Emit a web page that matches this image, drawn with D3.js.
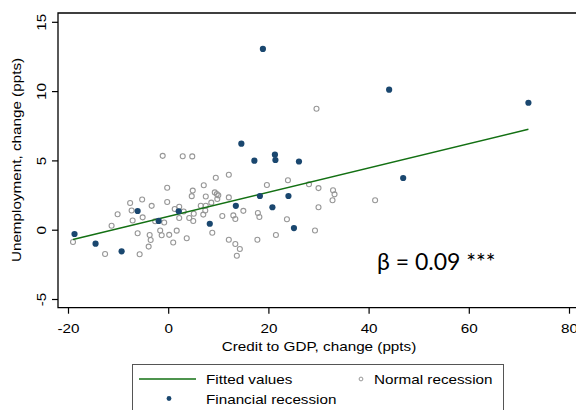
<!DOCTYPE html>
<html>
<head>
<meta charset="utf-8">
<script src="https://cdn.jsdelivr.net/npm/d3@7"></script>
<style>
  html, body { margin: 0; padding: 0; background: #fff; }
  svg { display: block; font-family: "Liberation Sans", Arial, sans-serif; }
</style>
</head>
<body>
<svg id="chart" width="576" height="410"></svg>
<script>
// Financial recessions: change in credit-to-GDP (x) and unemployment (y), ppts
const financialX = [-18.7, -14.5, -9.3, -6.1, -1.9, 2.1, 8.3, 13.5, 14.6, 17.2, 18.3, 18.9, 20.8,
                    21.3, 21.4, 24.0, 25.1, 26.1, 44.1, 46.9, 71.9];
const financialY = [-0.31, -1.01, -1.56, 1.35, 0.63, 1.33, 0.43, 1.72, 6.21, 4.98, 2.43, 13.04, 1.62,
                    5.41, 5.03, 2.43, 0.12, 4.92, 10.10, 3.73, 9.16];

// Normal recessions
const normalX = [-19.0, -12.6, -11.3, -10.1, -7.6, -7.3, -7.1, -6.1, -5.7, -5.2, -5.1, -3.7, -3.5,
                 -3.9, -3.3, -2.6, -1.6, -1.3, -1.1, -0.8, -0.2, -0.2, 0.2, 1.3, 2.2, 3.1, 2.9,
                 4.8, 1.0, 1.7, 2.2, 3.7, 4.2, 5.0, 5.1, 4.9, 4.7, 7.1, 6.5, 7.5, 7.5, 7.4,
                 7.0, 8.6, 8.8, 9.3, 9.7, 10.0, 9.8, 9.5, 12.1, 12.1, 10.8, 13.0, 13.4, 15.0,
                 12.1, 13.4, 14.3, 13.7, 17.8, 17.9, 18.2, 19.7, 21.5, 23.7, 23.9, 28.1, 29.6,
                 30.0, 30.0, 29.3, 32.9, 33.2, 32.8, 41.3];
const normalY = [-0.89, -1.75, 0.29, 1.12, 1.93, 1.39, 0.66, -0.26, -1.77, 2.18, 0.89, -0.38, -0.74,
                 -1.22, 1.72, 0.61, -0.06, -0.40, 5.33, 0.52, 3.03, 2.00, -0.37, 1.49, 1.66, 1.31, 5.30,
                 5.29, -0.92, -0.07, 0.84, -0.62, 0.84, 0.63, 1.15, 2.82, 2.42, 3.21, 1.73, 2.40, 1.73, 1.39,
                 1.09, 1.95, -0.22, 2.69, 2.57, 2.48, 2.21, 3.75, 3.97, 2.33, 0.99, 1.03, 0.77, 1.36,
                 -0.72, -1.03, -1.39, -1.88, -0.72, 1.21, 0.92, 3.22, -0.38, 0.75, 3.57, 3.28, 8.73,
                 3.00, 1.62, -0.06, 2.85, 2.55, 2.13, 2.12];

// Linear fit over the sample range
const fitX = [-19.0, 71.9];
const fitY = [-0.71, 7.25];

const xTicks = [-20, 0, 20, 40, 60, 80];
const yTicks = [-5, 0, 5, 10, 15];

const svg = d3.select("#chart");
const plot = { left: 58, top: 13, right: 600, bottom: 307.7 };

const x = d3.scaleLinear().domain([-20, 80]).range([68, 569]);
const y = d3.scaleLinear().domain([-5, 15]).range([299, 21.8]);

const navy = "#1a476f";
const grey = "#979797";
const green = "#137013";
const stretch = 1.13;   // wide Helvetica-style lettering
const fmt = d => String(d);   // plain hyphen minus

// Frame: left axis, top border, bottom axis
svg.append("path")
  .attr("d", `M${plot.right},${plot.top}H${plot.left}V${plot.bottom}H${plot.right}`)
  .attr("fill", "none").attr("stroke", "#000").attr("stroke-width", 1.3);

// Y axis ticks and rotated labels
const yAxis = svg.append("g").attr("transform", `translate(${plot.left},0)`)
  .call(d3.axisLeft(y).tickValues(yTicks).tickSize(6).tickPadding(0).tickFormat(fmt));
yAxis.select(".domain").remove();
yAxis.selectAll(".tick line").attr("stroke", "#000").attr("stroke-width", 1.2);
yAxis.selectAll(".tick text")
  .attr("x", null).attr("dy", null)
  .attr("transform", `translate(-12,0) rotate(-90) scale(${stretch},1)`)
  .attr("text-anchor", "middle")
  .attr("font-size", 13.5).attr("fill", "#000")
  .attr("font-family", "Liberation Sans, Arial, sans-serif");

// X axis ticks and labels
const xAxis = svg.append("g").attr("transform", `translate(0,${plot.bottom})`)
  .call(d3.axisBottom(x).tickValues(xTicks).tickSize(6).tickPadding(0).tickFormat(fmt));
xAxis.select(".domain").remove();
xAxis.selectAll(".tick line").attr("stroke", "#000").attr("stroke-width", 1.2);
xAxis.selectAll(".tick text")
  .attr("y", null).attr("dy", null)
  .attr("transform", `translate(0,25) scale(${stretch},1)`)
  .attr("font-size", 13.5).attr("fill", "#000")
  .attr("font-family", "Liberation Sans, Arial, sans-serif");

// Helper for stretched text labels
function label(parent, px, py, str, opts = {}) {
  return parent.append("text")
    .attr("transform", `translate(${px},${py})${opts.rotate ? " rotate(-90)" : ""} scale(${stretch},1)`)
    .attr("text-anchor", opts.anchor || "start")
    .attr("font-size", opts.size || 13.5)
    .text(str);
}

// Axis titles
label(svg, 319, 350.5, "Credit to GDP, change (ppts)", { anchor: "middle" });
label(svg, 21, 160, "Unemployment, change (ppts)", { anchor: "middle", rotate: true });

// Normal recessions: hollow grey circles
const normal = normalX.map((v, i) => ({ x: v, y: normalY[i] }));
svg.append("g").selectAll("circle").data(normal).join("circle")
  .attr("cx", d => x(d.x)).attr("cy", d => y(d.y)).attr("r", 2.5)
  .attr("fill", "none").attr("stroke", grey).attr("stroke-width", 1.1);

// Fitted line
svg.append("path")
  .datum(fitX.map((v, i) => [v, fitY[i]]))
  .attr("d", d3.line().x(d => x(d[0])).y(d => y(d[1])))
  .attr("fill", "none").attr("stroke", green).attr("stroke-width", 1.5);

// Financial recessions: solid navy dots
const financial = financialX.map((v, i) => ({ x: v, y: financialY[i] }));
svg.append("g").selectAll("circle").data(financial).join("circle")
  .attr("cx", d => x(d.x)).attr("cy", d => y(d.y)).attr("r", 3.1)
  .attr("fill", navy);

// Slope annotation
svg.append("text")
  .attr("x", 377).attr("y", 270)
  .attr("font-family", "Lato, 'Open Sans', sans-serif")
  .attr("font-size", 23)
  .text("β = 0.09 ***");

// Legend
const legend = svg.append("g");
legend.append("rect")
  .attr("x", 132.5).attr("y", 364.5).attr("width", 371).attr("height", 60)
  .attr("fill", "#fff").attr("stroke", "#555").attr("stroke-width", 1);
legend.append("line")
  .attr("x1", 139).attr("x2", 196).attr("y1", 379).attr("y2", 379)
  .attr("stroke", green).attr("stroke-width", 1.5);
label(legend, 206, 384, "Fitted values");
legend.append("circle").attr("cx", 361).attr("cy", 379).attr("r", 1.9)
  .attr("fill", "none").attr("stroke", grey).attr("stroke-width", 1);
label(legend, 374, 384, "Normal recession");
legend.append("circle").attr("cx", 169).attr("cy", 398.5).attr("r", 2.4).attr("fill", navy);
label(legend, 206, 404, "Financial recession");
</script>
</body>
</html>
